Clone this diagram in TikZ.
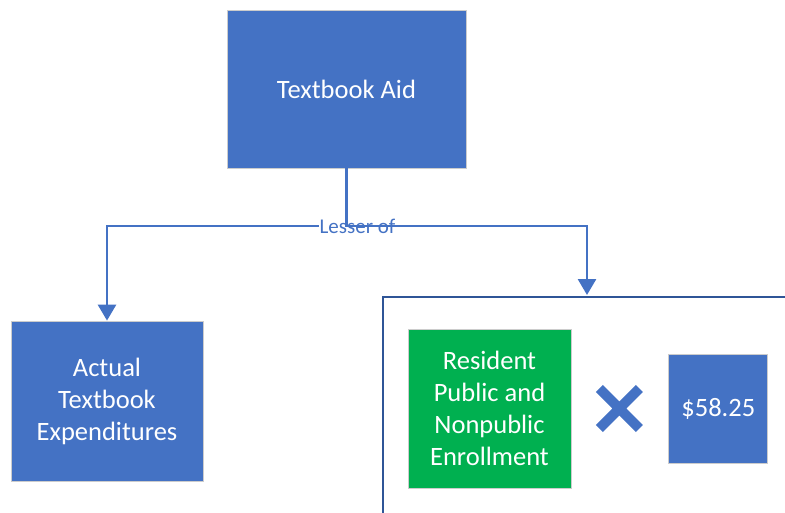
\documentclass[tikz,border=0pt]{standalone}
\usepackage{fontspec}
\setmainfont{Carlito}
\usepackage{xcolor}
\usepackage{tikz}
\usetikzlibrary{shapes.misc, positioning, arrows.meta}
\definecolor{boxblue}{HTML}{4472C4}
\definecolor{boxgreen}{HTML}{00B050}
\definecolor{frameblue}{HTML}{2F5597}
\tikzstyle{process} = [rectangle, fill=boxblue, draw=black!20, line width=0.8pt, text=white, align=center, inner sep=0pt, font=\fontsize{26.5}{32}\selectfont]
\tikzstyle{enroll} = [process, fill=boxgreen]
\tikzstyle{group} = [rectangle, draw=frameblue, line width=2pt, anchor=north west, inner sep=0pt]
\tikzstyle{link} = [draw=boxblue, line width=2.8pt]
\tikzstyle{times} = [cross out, draw=boxblue, line width=10pt, minimum size=30pt, inner sep=0pt]

\begin{document}
\begin{tikzpicture}[x=1pt, y=-1pt]
		\useasboundingbox (0,0) rectangle (785,512);
		\clip (0,0) rectangle (785,512);
		\node (Aid)[process, minimum width=239pt, minimum height=158pt] at (346.5,89) {Textbook Aid};
		\node (Actual)[process, minimum width=192pt, minimum height=160pt] at (107,401) {Actual\\Textbook\\Expenditures};
		\node (Group)[group, minimum width=440pt, minimum height=240pt] at (382,296) {};
		\node (Enrollment)[enroll, minimum width=163pt, minimum height=159pt] at (489.5,408.5) {Resident\\Public and\\Nonpublic\\Enrollment};
		\node (Times)[times, right = 28pt of Enrollment]{};
		\node (Rate)[process, minimum width=99pt, minimum height=109pt, right = 29pt of Times]{\$58.25};
		\coordinate (Split) at (346.5,226);
		\coordinate (Entry) at (587,295);
		\draw [link, -{Triangle[width=18pt,length=16pt]}] (Split) -| (Actual.north);
		\node (Lesser)[fill=white, text=boxblue, inner sep=1pt, font=\fontsize{21}{24}\selectfont] at (357.5,226) {Lesser of};
		\draw [link, -{Triangle[width=18pt,length=16pt]}] (Aid.south) -- (Split) -| (Entry);
	\end{tikzpicture}
\end{document}
